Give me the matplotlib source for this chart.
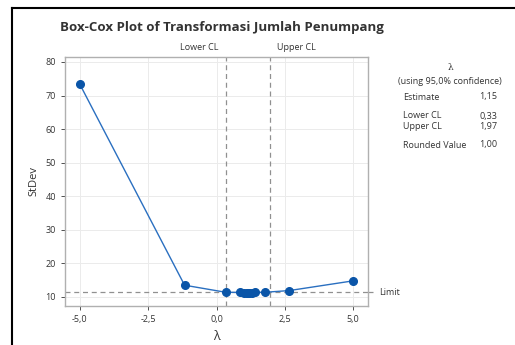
from matplotlib import pyplot as plt
from matplotlib.lines import Line2D

# Box-Cox grid (lambda) and StDev values
lambdas = [-5.0, -1.17, 0.33, 0.86, 1.0, 1.1, 1.15, 1.2, 1.3, 1.42, 1.78, 2.66, 5.0]
stdevs = [73.3, 13.5, 11.4, 11.35, 11.3, 11.25, 11.2, 11.25, 11.3, 11.35, 11.4, 11.9, 14.8]

limit = 11.4
lower_cl = 0.33
upper_cl = 1.97

x_ticks = [-5.0, -2.5, 0.0, 2.5, 5.0]
x_tick_labels = ['-5,0', '-2,5', '0,0', '2,5', '5,0']
y_ticks = [10, 20, 30, 40, 50, 60, 70, 80]

table_rows = [('Estimate', '1,15'), ('Lower CL', '0,33'), ('Upper CL', '1,97'), ('Rounded Value', '1,00')]

plt.rcParams['font.family'] = ['Open Sans', 'DejaVu Sans']

fig = plt.figure(figsize=(5.15, 3.45), dpi=100)
ax = fig.add_axes([0.126, 0.113, 0.589, 0.722])

ax.plot(lambdas, stdevs, color='#2a6fc0', lw=1.0, marker='o', ms=5.5,
        mfc='#0a55a8', mec='#0a55a8', zorder=3)

ax.axhline(limit, color='#909090', ls=(0, (4, 3)), lw=0.9, clip_on=False, zorder=2)
ax.axvline(lower_cl, color='#909090', ls=(0, (4, 3)), lw=0.9, zorder=2)
ax.axvline(upper_cl, color='#909090', ls=(0, (4, 3)), lw=0.9, zorder=2)

ax.set_xlim(-5.55, 5.55)
ax.set_ylim(7.3, 81.5)
ax.set_xticks(x_ticks)
ax.set_xticklabels(x_tick_labels)
ax.set_yticks(y_ticks)
ax.tick_params(labelsize=6.5, colors='#333333', length=3, width=0.6)
ax.grid(True, color='#ebebeb', lw=0.7)
ax.set_axisbelow(True)
for s in ax.spines.values():
    s.set_color('#b0b0b0')
    s.set_linewidth(1.0)

ax.set_xlabel('λ', fontsize=9, color='#333333')
ax.set_ylabel('StDev', fontsize=8, color='#333333')

# limit extension to the right and labels
ax.plot([5.55, 5.75], [limit, limit], color='#909090', ls=(0, (4, 3)), lw=0.9, clip_on=False)
ax.text(5.95, limit, 'Limit', fontsize=6.5, color='#333333', va='center', ha='left')
ax.text(lower_cl - 0.25, 1.02, 'Lower CL', transform=ax.get_xaxis_transform(),
        fontsize=6.5, color='#333333', ha='right', va='bottom')
ax.text(upper_cl + 0.25, 1.02, 'Upper CL', transform=ax.get_xaxis_transform(),
        fontsize=6.5, color='#333333', ha='left', va='bottom')

fig.text(60 / 515, 1 - 27 / 345, 'Box-Cox Plot of Transformasi Jumlah Penumpang',
         fontsize=9.5, fontweight='bold', color='#333333', ha='left', va='center')

# summary table on the right
fig.text(450 / 515, 1 - 67 / 345, 'λ', fontsize=6.5, ha='center', va='center',
         family='DejaVu Serif', color='#333333')
fig.text(450 / 515, 1 - 81 / 345, '(using 95,0% confidence)', fontsize=6.5,
         ha='center', va='center', color='#333333')
row_y = [97, 116, 127, 145]
for (name, val), yy in zip(table_rows, row_y):
    fig.text(403 / 515, 1 - yy / 345, name, fontsize=6.5, ha='left', va='center', color='#333333')
    fig.text(497 / 515, 1 - yy / 345, val, fontsize=6.5, ha='right', va='center', color='#333333')

# screenshot frame edges
fig.add_artist(Line2D([12 / 515, 12 / 515], [0, 1 - 8 / 345], color='black', lw=1.5, transform=fig.transFigure))
fig.add_artist(Line2D([12 / 515, 1], [1 - 8 / 345, 1 - 8 / 345], color='black', lw=1.5, transform=fig.transFigure))

plt.savefig('out.png', dpi=100)
